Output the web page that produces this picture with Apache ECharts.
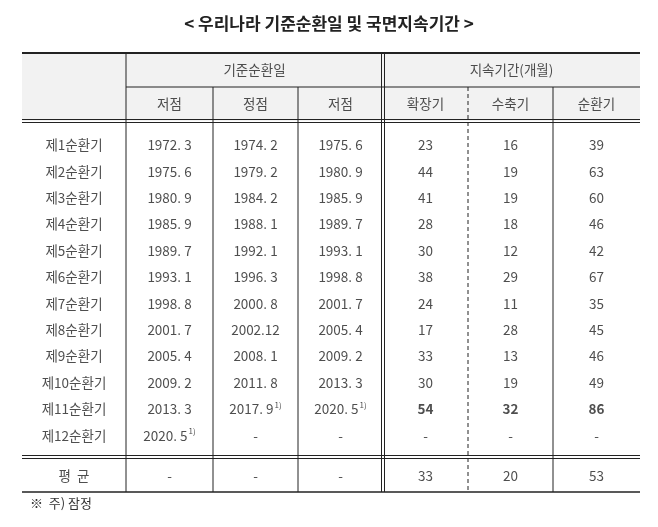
<!DOCTYPE html>
<html><head><meta charset="utf-8">
<script src="https://cdn.jsdelivr.net/npm/echarts@6/dist/echarts.min.js"></script>
<style>html,body{margin:0;background:#fff}#c{width:658px;height:527px}</style>
</head><body><div id="c"></div>
<script>
const title = '< 우리나라 기준순환일 및 국면지속기간 >';
const groupHeaders = ['기준순환일', '지속기간(개월)'];
const colHeaders = ['저점', '정점', '저점', '확장기', '수축기', '순환기'];
const cycles = ['제1순환기','제2순환기','제3순환기','제4순환기','제5순환기','제6순환기','제7순환기','제8순환기','제9순환기','제10순환기','제11순환기','제12순환기'];
const troughStart = ['1972. 3','1975. 6','1980. 9','1985. 9','1989. 7','1993. 1','1998. 8','2001. 7','2005. 4','2009. 2','2013. 3','2020. 5*'];
const peak = ['1974. 2','1979. 2','1984. 2','1988. 1','1992. 1','1996. 3','2000. 8','2002.12','2008. 1','2011. 8','2017. 9*','-'];
const troughEnd = ['1975. 6','1980. 9','1985. 9','1989. 7','1993. 1','1998. 8','2001. 7','2005. 4','2009. 2','2013. 3','2020. 5*','-'];
const expansion = [23,44,41,28,30,38,24,17,33,30,54,'-'];
const contraction = [16,19,19,18,12,29,11,28,13,19,32,'-'];
const fullCycle = [39,63,60,46,42,67,35,45,46,49,86,'-'];
const avgLabel = '평  균';
const avgRow = ['-','-','-',33,20,53];
const footnote = '※  주) 잠정';

// layout
const X0 = 22, W = 618;
const bounds = [0,104,191,276,361,446,531,618];
const centers = bounds.slice(0,-1).map((b,i)=>(b+bounds[i+1])/2);
const AVG_Y = 12.55, H1_Y = -2.84, H2_Y = -1.55;

const FONT = '"Noto Sans CJK KR", sans-serif';
const pts = [];
function fmt(t){ t = String(t); return t.endsWith('*') ? t.slice(0,-1)+'{s|1)}' : t; }
function add(x, y, text, bold){ pts.push({value:[x,y], label:{formatter: fmt(text), fontWeight: bold?'bold':'normal'}}); }
cycles.forEach((c,i)=>{
  add(centers[0], i, c);
  [troughStart,peak,troughEnd,expansion,contraction,fullCycle].forEach((arr,j)=>add(centers[j+1], i, arr[i], i===10 && j>=3));
});
add(centers[0], AVG_Y, avgLabel);
avgRow.forEach((v,j)=>add(centers[j+1], AVG_Y, v));
add((bounds[1]+bounds[4])/2, H1_Y, groupHeaders[0]);
add((bounds[4]+bounds[7])/2, H1_Y, groupHeaders[1]);
colHeaders.forEach((h,j)=>add(centers[j+1], H2_Y, h));

const g = [];
const line = (x1,y1,x2,y2,w,dash)=>g.push({type:'line',shape:{x1,y1,x2,y2},style:{stroke:'#222',lineWidth:w||1,lineDash:dash||null},z:10});
const yTop = 53, hb1 = 87, hb2 = 121, avgTop = 457, yBot = 492;
g.push({type:'rect',shape:{x:X0,y:yTop,width:W,height:hb2-yTop},style:{fill:'#f2f2f2'},z:1});
line(X0,yTop,X0+W,yTop,2);
line(X0+bounds[1],hb1,X0+W,hb1,1);
line(X0,hb2-1.5,X0+W,hb2-1.5,1); line(X0,hb2+1.5,X0+W,hb2+1.5,1);
line(X0,avgTop-1.5,X0+W,avgTop-1.5,1); line(X0,avgTop+1.5,X0+W,avgTop+1.5,1);
line(X0,yBot,X0+W,yBot,1.5);
line(X0+bounds[1],yTop,X0+bounds[1],yBot,1);
line(X0+bounds[4]-1.5,yTop,X0+bounds[4]-1.5,yBot,1);
line(X0+bounds[4]+1.5,yTop,X0+bounds[4]+1.5,yBot,1);
[2,3,6].forEach(k=>line(X0+bounds[k],hb1,X0+bounds[k],yBot,1));
line(X0+bounds[5],hb1,X0+bounds[5],yBot,1,[4,3]);
g.push({type:'text',left:30,top:497,style:{text:footnote,font:'13px '+FONT,fill:'#333'},z:10});

const chart = echarts.init(document.getElementById('c'));
chart.setOption({
  backgroundColor:'#fff',
  animation:false,
  title:{text:title,left:'center',top:10,textStyle:{fontFamily:FONT,fontSize:17,fontWeight:'bold',color:'#222'}},
  grid:{left:X0,top:52.6,width:W,height:16.5*26.4},
  xAxis:{type:'value',min:0,max:W,show:false},
  yAxis:{type:'value',min:-3.5,max:13,inverse:true,show:false},
  graphic:g,
  series:[{type:'scatter',symbolSize:0,z:20,data:pts,
    label:{show:true,position:'inside',color:'#222',fontFamily:FONT,fontSize:13.5,
      rich:{s:{fontSize:8,verticalAlign:'top',padding:[0,0,8,1],color:'#222',fontFamily:FONT}}}}]
});
</script></body></html>
